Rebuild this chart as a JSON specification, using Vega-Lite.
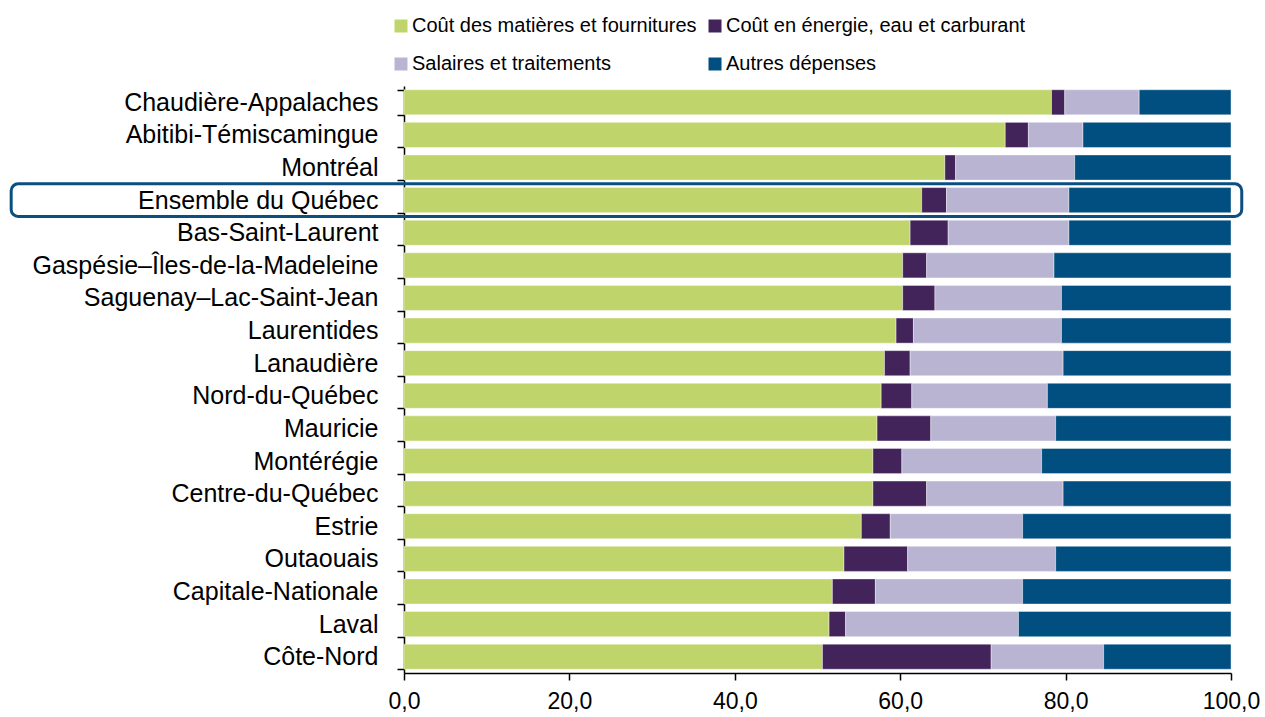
{
  "$schema": "https://vega.github.io/schema/vega-lite/v6.json",
  "width": 827,
  "height": 587,
  "autosize": "none",
  "padding": {"left": 404, "top": 86, "right": 34, "bottom": 44},
  "background": "white",
  "config": {"font": "Liberation Sans", "view": {"stroke": null}},
  "datasets": {
    "costs": [
      {"region": "Chaudière-Appalaches", "Coût des matières et fournitures": 78.3, "Coût en énergie, eau et carburant": 1.6, "Salaires et traitements": 9.0, "Autres dépenses": 11.1},
      {"region": "Abitibi-Témiscamingue", "Coût des matières et fournitures": 72.7, "Coût en énergie, eau et carburant": 2.8, "Salaires et traitements": 6.6, "Autres dépenses": 17.9},
      {"region": "Montréal", "Coût des matières et fournitures": 65.4, "Coût en énergie, eau et carburant": 1.3, "Salaires et traitements": 14.4, "Autres dépenses": 18.9},
      {"region": "Ensemble du Québec", "Coût des matières et fournitures": 62.6, "Coût en énergie, eau et carburant": 3.0, "Salaires et traitements": 14.8, "Autres dépenses": 19.6},
      {"region": "Bas-Saint-Laurent", "Coût des matières et fournitures": 61.2, "Coût en énergie, eau et carburant": 4.6, "Salaires et traitements": 14.6, "Autres dépenses": 19.6},
      {"region": "Gaspésie–Îles-de-la-Madeleine", "Coût des matières et fournitures": 60.3, "Coût en énergie, eau et carburant": 2.9, "Salaires et traitements": 15.4, "Autres dépenses": 21.4},
      {"region": "Saguenay–Lac-Saint-Jean", "Coût des matières et fournitures": 60.3, "Coût en énergie, eau et carburant": 3.9, "Salaires et traitements": 15.3, "Autres dépenses": 20.5},
      {"region": "Laurentides", "Coût des matières et fournitures": 59.5, "Coût en énergie, eau et carburant": 2.1, "Salaires et traitements": 17.9, "Autres dépenses": 20.5},
      {"region": "Lanaudière", "Coût des matières et fournitures": 58.1, "Coût en énergie, eau et carburant": 3.1, "Salaires et traitements": 18.5, "Autres dépenses": 20.3},
      {"region": "Nord-du-Québec", "Coût des matières et fournitures": 57.7, "Coût en énergie, eau et carburant": 3.7, "Salaires et traitements": 16.4, "Autres dépenses": 22.2},
      {"region": "Mauricie", "Coût des matières et fournitures": 57.2, "Coût en énergie, eau et carburant": 6.5, "Salaires et traitements": 15.1, "Autres dépenses": 21.2},
      {"region": "Montérégie", "Coût des matières et fournitures": 56.7, "Coût en énergie, eau et carburant": 3.5, "Salaires et traitements": 16.9, "Autres dépenses": 22.9},
      {"region": "Centre-du-Québec", "Coût des matières et fournitures": 56.7, "Coût en énergie, eau et carburant": 6.5, "Salaires et traitements": 16.5, "Autres dépenses": 20.3},
      {"region": "Estrie", "Coût des matières et fournitures": 55.3, "Coût en énergie, eau et carburant": 3.5, "Salaires et traitements": 16.0, "Autres dépenses": 25.2},
      {"region": "Outaouais", "Coût des matières et fournitures": 53.2, "Coût en énergie, eau et carburant": 7.7, "Salaires et traitements": 17.9, "Autres dépenses": 21.2},
      {"region": "Capitale-Nationale", "Coût des matières et fournitures": 51.8, "Coût en énergie, eau et carburant": 5.2, "Salaires et traitements": 17.8, "Autres dépenses": 25.2},
      {"region": "Laval", "Coût des matières et fournitures": 51.4, "Coût en énergie, eau et carburant": 2.0, "Salaires et traitements": 20.9, "Autres dépenses": 25.7},
      {"region": "Côte-Nord", "Coût des matières et fournitures": 50.6, "Coût en énergie, eau et carburant": 20.4, "Salaires et traitements": 13.6, "Autres dépenses": 15.4}
    ],
    "cats": [
      {"cat": "Coût des matières et fournitures", "rank": 1},
      {"cat": "Coût en énergie, eau et carburant", "rank": 2},
      {"cat": "Salaires et traitements", "rank": 3},
      {"cat": "Autres dépenses", "rank": 4}
    ],
    "highlight": [{"region": "Ensemble du Québec"}]
  },
  "layer": [
    {
      "data": {"name": "costs"},
      "transform": [
        {"fold": ["Coût des matières et fournitures", "Coût en énergie, eau et carburant", "Salaires et traitements", "Autres dépenses"], "as": ["cat", "value"]},
        {"lookup": "cat", "from": {"data": {"name": "cats"}, "key": "cat", "fields": ["rank"]}}
      ],
      "mark": {"type": "bar", "stroke": "white", "strokeWidth": 0.4},
      "encoding": {
        "y": {
          "field": "region", "type": "nominal",
          "sort": ["Chaudière-Appalaches", "Abitibi-Témiscamingue", "Montréal", "Ensemble du Québec", "Bas-Saint-Laurent", "Gaspésie–Îles-de-la-Madeleine", "Saguenay–Lac-Saint-Jean", "Laurentides", "Lanaudière", "Nord-du-Québec", "Mauricie", "Montérégie", "Centre-du-Québec", "Estrie", "Outaouais", "Capitale-Nationale", "Laval", "Côte-Nord"],
          "scale": {"paddingInner": 0.23, "paddingOuter": 0.115},
          "axis": {"title": null, "domainColor": "black", "domainWidth": 1.5, "tickColor": "black", "tickWidth": 1.5, "tickSize": 7, "tickBand": "extent", "labelFontSize": 25, "labelColor": "black", "labelPadding": 19, "labelLimit": 400}
        },
        "x": {
          "field": "value", "type": "quantitative", "stack": "zero",
          "scale": {"domain": [0, 100], "nice": false},
          "axis": {"title": null, "values": [0, 20, 40, 60, 80, 100], "labelExpr": "replace(format(datum.value, '.1f'), '.', ',')", "grid": false, "domainColor": "black", "domainWidth": 1.5, "tickColor": "black", "tickWidth": 1.5, "tickSize": 7, "labelFontSize": 23, "labelColor": "black", "labelPadding": 10, "labelFlush": false, "labelOverlap": false}
        },
        "order": {"field": "rank", "type": "quantitative"},
        "color": {
          "field": "cat", "type": "nominal",
          "sort": ["Coût des matières et fournitures", "Coût en énergie, eau et carburant", "Salaires et traitements", "Autres dépenses"],
          "scale": {"domain": ["Coût des matières et fournitures", "Coût en énergie, eau et carburant", "Salaires et traitements", "Autres dépenses"], "range": ["#C0D46C", "#42245B", "#BAB4D3", "#004F80"]},
          "legend": {"title": null, "orient": "none", "direction": "horizontal", "legendX": -13, "legendY": -70, "columns": 2, "symbolType": "square", "symbolSize": 169, "symbolStrokeWidth": 0, "labelFontSize": 20, "labelColor": "black", "labelOffset": 1, "rowPadding": 18, "columnPadding": 8, "labelLimit": 400}
        }
      }
    },
    {
      "data": {"name": "highlight"},
      "mark": {"type": "bar", "fill": "transparent", "stroke": "#0B4F7E", "strokeWidth": 3, "cornerRadius": 7, "height": {"band": 1.3}, "clip": false},
      "encoding": {
        "y": {
          "field": "region", "type": "nominal",
          "sort": ["Chaudière-Appalaches", "Abitibi-Témiscamingue", "Montréal", "Ensemble du Québec", "Bas-Saint-Laurent", "Gaspésie–Îles-de-la-Madeleine", "Saguenay–Lac-Saint-Jean", "Laurentides", "Lanaudière", "Nord-du-Québec", "Mauricie", "Montérégie", "Centre-du-Québec", "Estrie", "Outaouais", "Capitale-Nationale", "Laval", "Côte-Nord"]
        },
        "x": {"datum": -47.5, "type": "quantitative"},
        "x2": {"datum": 101.3}
      }
    }
  ]
}
